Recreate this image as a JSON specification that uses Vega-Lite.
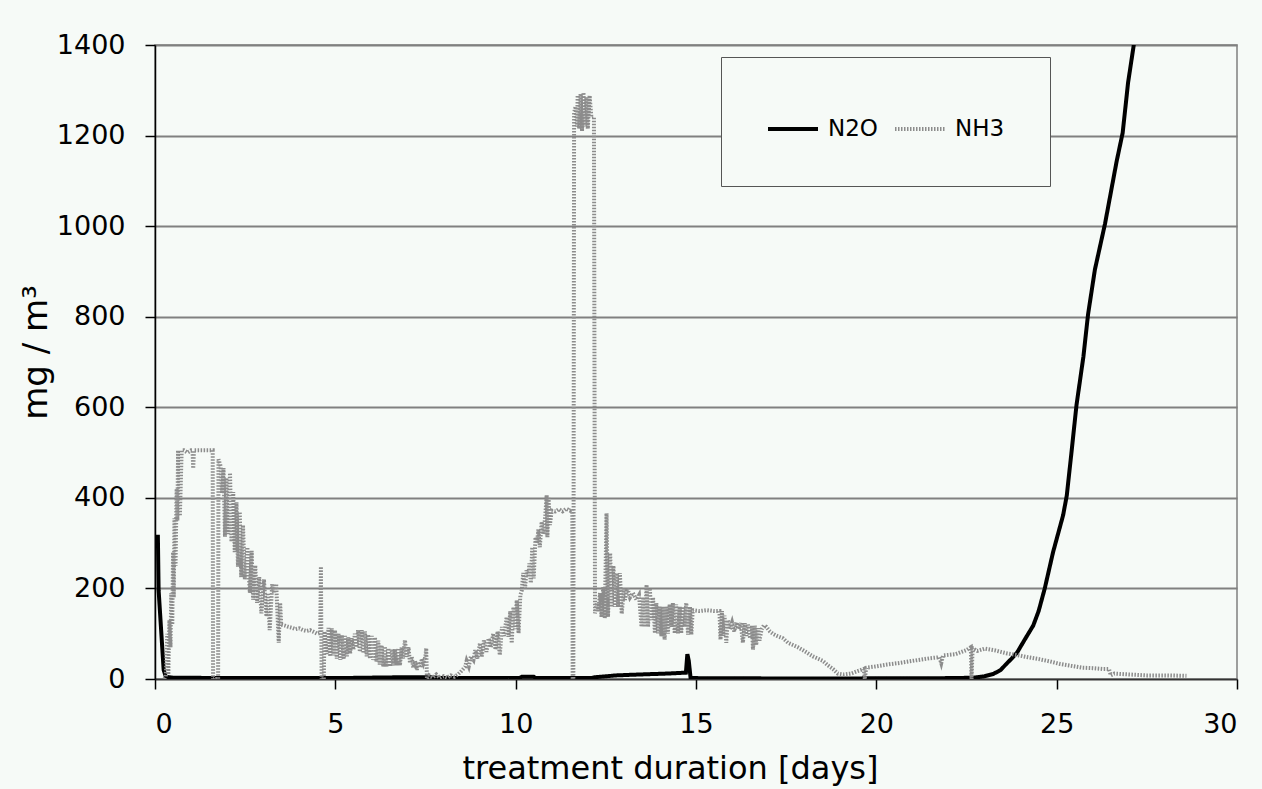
{
  "$schema": "https://vega.github.io/schema/vega-lite/v6.json",
  "width": 1082,
  "height": 634,
  "autosize": "none",
  "padding": {"left": 155, "top": 45, "right": 25, "bottom": 110},
  "background": "#f6faf7",
  "config": {
    "font": "DejaVu Sans",
    "view": {"stroke": "#808080", "strokeWidth": 1.5}
  },
  "datasets": {
    "n2o": [
      {"d":0.0,"v":300},{"d":0.02,"v":314},{"d":0.08,"v":314},{"d":0.1,"v":196},{"d":0.17,"v":108},{"d":0.24,"v":20},{"d":0.3,"v":5},{"d":0.5,"v":3},{"d":2.0,"v":2},{"d":5.0,"v":2},{"d":7.0,"v":4},{"d":7.6,"v":4},{"d":8.0,"v":2},{"d":10.1,"v":2},{"d":10.17,"v":5},{"d":10.5,"v":5},{"d":10.55,"v":2},{"d":12.1,"v":2},{"d":12.2,"v":4},{"d":12.8,"v":8},{"d":13.45,"v":10},{"d":14.2,"v":12},{"d":14.72,"v":14},{"d":14.76,"v":55},{"d":14.8,"v":40},{"d":14.85,"v":2},{"d":18.0,"v":1},{"d":22.2,"v":2},{"d":22.7,"v":3},{"d":23.0,"v":6},{"d":23.24,"v":11},{"d":23.45,"v":20},{"d":23.6,"v":33},{"d":23.75,"v":45},{"d":23.9,"v":58},{"d":24.1,"v":85},{"d":24.35,"v":118},{"d":24.5,"v":150},{"d":24.67,"v":200},{"d":24.9,"v":280},{"d":25.18,"v":362},{"d":25.28,"v":405},{"d":25.41,"v":500},{"d":25.55,"v":605},{"d":25.74,"v":711},{"d":25.87,"v":805},{"d":26.06,"v":904},{"d":26.34,"v":1005},{"d":26.66,"v":1142},{"d":26.83,"v":1206},{"d":26.98,"v":1317},{"d":27.17,"v":1417}
    ],
    "nh3": [
      {"d":0.26,"v":0},{"d":0.3,"v":5},{"d":0.34,"v":100},{"d":0.37,"v":10},{"d":0.4,"v":130},{"d":0.43,"v":70},{"d":0.45,"v":190},{"d":0.48,"v":120},{"d":0.5,"v":280},{"d":0.52,"v":180},{"d":0.54,"v":355},{"d":0.57,"v":250},{"d":0.6,"v":420},{"d":0.62,"v":350},{"d":0.64,"v":505},{"d":0.69,"v":360},{"d":0.74,"v":505},{"d":0.8,"v":505},{"d":0.9,"v":500},{"d":1.0,"v":505},{"d":1.04,"v":505},{"d":1.06,"v":465},{"d":1.08,"v":505},{"d":1.2,"v":505},{"d":1.4,"v":505},{"d":1.6,"v":505},{"d":1.61,"v":0},{"d":1.75,"v":0},{"d":1.76,"v":485},
      {"d":1.82,"v":470},{"d":1.86,"v":410},{"d":1.9,"v":466},{"d":1.94,"v":314},{"d":1.98,"v":444},{"d":2.02,"v":320},{"d":2.08,"v":455},{"d":2.12,"v":303},{"d":2.17,"v":413},{"d":2.21,"v":280},{"d":2.26,"v":390},{"d":2.3,"v":248},{"d":2.35,"v":369},{"d":2.39,"v":225},{"d":2.44,"v":340},{"d":2.49,"v":220},{"d":2.56,"v":291},{"d":2.63,"v":190},{"d":2.68,"v":283},{"d":2.72,"v":175},{"d":2.78,"v":251},{"d":2.83,"v":168},{"d":2.89,"v":225},{"d":2.95,"v":145},{"d":3.02,"v":220},{"d":3.09,"v":138},{"d":3.13,"v":190},{"d":3.18,"v":108},{"d":3.25,"v":210},{"d":3.3,"v":190},{"d":3.36,"v":210},{"d":3.43,"v":80},{"d":3.47,"v":168},{"d":3.5,"v":120},{"d":3.6,"v":118},{"d":3.7,"v":115},{"d":3.8,"v":113},{"d":3.9,"v":110},{"d":4.0,"v":112},{"d":4.1,"v":108},{"d":4.2,"v":106},{"d":4.3,"v":108},{"d":4.4,"v":104},{"d":4.5,"v":100},{"d":4.58,"v":102},{"d":4.6,"v":248},{"d":4.62,"v":0},{"d":4.68,"v":0},{"d":4.7,"v":105},
      {"d":4.76,"v":55},{"d":4.81,"v":113},{"d":4.86,"v":50},{"d":4.9,"v":112},{"d":4.95,"v":52},{"d":4.99,"v":108},{"d":5.04,"v":45},{"d":5.09,"v":100},{"d":5.14,"v":42},{"d":5.18,"v":97},{"d":5.23,"v":44},{"d":5.27,"v":95},{"d":5.32,"v":50},{"d":5.36,"v":92},{"d":5.41,"v":56},{"d":5.45,"v":90},{"d":5.5,"v":65},{"d":5.54,"v":100},{"d":5.59,"v":70},{"d":5.63,"v":108},{"d":5.68,"v":60},{"d":5.73,"v":108},{"d":5.78,"v":57},{"d":5.82,"v":105},{"d":5.87,"v":50},{"d":5.91,"v":98},{"d":5.96,"v":45},{"d":6.01,"v":95},{"d":6.05,"v":42},{"d":6.1,"v":92},{"d":6.14,"v":38},{"d":6.19,"v":85},{"d":6.23,"v":32},{"d":6.28,"v":75},{"d":6.33,"v":27},{"d":6.37,"v":72},{"d":6.42,"v":27},{"d":6.47,"v":68},{"d":6.52,"v":28},{"d":6.56,"v":66},{"d":6.61,"v":30},{"d":6.65,"v":66},{"d":6.7,"v":30},{"d":6.75,"v":68},{"d":6.79,"v":30},{"d":6.84,"v":70},{"d":6.88,"v":45},{"d":6.93,"v":86},{"d":6.98,"v":49},{"d":7.03,"v":70},{"d":7.07,"v":35},{"d":7.12,"v":49},{"d":7.16,"v":25},{"d":7.21,"v":40},{"d":7.26,"v":20},{"d":7.3,"v":38},{"d":7.35,"v":25},{"d":7.4,"v":45},{"d":7.44,"v":35},{"d":7.5,"v":50},{"d":7.52,"v":68},{"d":7.54,"v":0},{"d":7.6,"v":8},{"d":7.7,"v":3},{"d":7.8,"v":10},{"d":7.9,"v":2},{"d":8.0,"v":6},{"d":8.1,"v":3},{"d":8.2,"v":8},{"d":8.3,"v":5},{"d":8.4,"v":10},{"d":8.5,"v":18},{"d":8.6,"v":27},
      {"d":8.64,"v":40},{"d":8.7,"v":28},{"d":8.76,"v":50},{"d":8.83,"v":42},{"d":8.88,"v":64},{"d":8.94,"v":45},{"d":9.01,"v":79},{"d":9.06,"v":50},{"d":9.12,"v":85},{"d":9.19,"v":60},{"d":9.25,"v":90},{"d":9.31,"v":70},{"d":9.38,"v":100},{"d":9.44,"v":65},{"d":9.5,"v":105},{"d":9.56,"v":53},{"d":9.62,"v":115},{"d":9.68,"v":95},{"d":9.75,"v":137},{"d":9.8,"v":93},{"d":9.85,"v":150},{"d":9.89,"v":79},{"d":9.94,"v":159},{"d":9.98,"v":110},{"d":10.03,"v":174},{"d":10.08,"v":101},{"d":10.13,"v":185},{"d":10.17,"v":196},{"d":10.21,"v":234},{"d":10.26,"v":200},{"d":10.3,"v":240},{"d":10.35,"v":225},{"d":10.38,"v":255},{"d":10.42,"v":212},{"d":10.46,"v":291},{"d":10.5,"v":222},{"d":10.55,"v":313},{"d":10.59,"v":300},{"d":10.63,"v":330},{"d":10.67,"v":291},{"d":10.72,"v":347},{"d":10.77,"v":320},{"d":10.82,"v":360},{"d":10.86,"v":406},{"d":10.88,"v":313},{"d":10.91,"v":400},{"d":10.95,"v":340},{"d":11.0,"v":372},{"d":11.1,"v":370},{"d":11.2,"v":375},{"d":11.3,"v":370},{"d":11.4,"v":376},{"d":11.5,"v":372},{"d":11.57,"v":375},{"d":11.58,"v":0},{"d":11.6,"v":0},{"d":11.62,"v":1250},{"d":11.66,"v":1264},{"d":11.7,"v":1220},{"d":11.72,"v":1289},{"d":11.76,"v":1215},{"d":11.8,"v":1292},{"d":11.84,"v":1210},{"d":11.88,"v":1295},{"d":11.92,"v":1220},{"d":11.96,"v":1285},{"d":12.0,"v":1215},{"d":12.05,"v":1288},{"d":12.1,"v":1240},{"d":12.17,"v":1241},{"d":12.2,"v":145},
      {"d":12.25,"v":168},{"d":12.29,"v":150},{"d":12.34,"v":190},{"d":12.38,"v":137},{"d":12.43,"v":203},{"d":12.47,"v":134},{"d":12.52,"v":366},{"d":12.56,"v":137},{"d":12.62,"v":278},{"d":12.66,"v":159},{"d":12.71,"v":250},{"d":12.75,"v":159},{"d":12.8,"v":234},{"d":12.84,"v":159},{"d":12.89,"v":234},{"d":12.94,"v":144},{"d":13.0,"v":200},{"d":13.03,"v":175},{"d":13.1,"v":200},{"d":13.17,"v":180},{"d":13.25,"v":190},{"d":13.35,"v":175},{"d":13.42,"v":185},{"d":13.49,"v":115},{"d":13.54,"v":181},{"d":13.58,"v":115},{"d":13.63,"v":208},{"d":13.67,"v":115},{"d":13.72,"v":200},{"d":13.77,"v":130},{"d":13.81,"v":180},{"d":13.86,"v":101},{"d":13.9,"v":168},{"d":13.95,"v":101},{"d":13.99,"v":160},{"d":14.04,"v":94},{"d":14.08,"v":160},{"d":14.13,"v":87},{"d":14.18,"v":160},{"d":14.22,"v":100},{"d":14.27,"v":165},{"d":14.32,"v":115},{"d":14.36,"v":168},{"d":14.41,"v":101},{"d":14.45,"v":165},{"d":14.5,"v":101},{"d":14.55,"v":160},{"d":14.59,"v":101},{"d":14.64,"v":160},{"d":14.68,"v":115},{"d":14.73,"v":168},{"d":14.78,"v":98},{"d":14.83,"v":160},{"d":14.87,"v":98},{"d":14.91,"v":152},{"d":15.1,"v":150},{"d":15.3,"v":152},{"d":15.5,"v":150},{"d":15.65,"v":150},{"d":15.68,"v":87},{"d":15.72,"v":150},{"d":15.76,"v":95},{"d":15.79,"v":140},{"d":15.84,"v":80},{"d":15.88,"v":130},{"d":15.94,"v":110},{"d":16.0,"v":125},{"d":16.06,"v":105},{"d":16.12,"v":125},{"d":16.18,"v":110},{"d":16.24,"v":123},{"d":16.3,"v":80},{"d":16.35,"v":123},{"d":16.4,"v":95},{"d":16.44,"v":120},{"d":16.5,"v":90},{"d":16.55,"v":118},{"d":16.58,"v":65},{"d":16.63,"v":118},{"d":16.67,"v":75},{"d":16.72,"v":112},{"d":16.76,"v":85},{"d":16.82,"v":110},{"d":16.88,"v":118},{"d":16.95,"v":115},{"d":17.05,"v":105},{"d":17.13,"v":100},{"d":17.25,"v":95},{"d":17.41,"v":90},{"d":17.55,"v":80},{"d":17.69,"v":75},{"d":17.83,"v":70},{"d":17.96,"v":64},{"d":18.1,"v":57},{"d":18.24,"v":50},{"d":18.38,"v":45},{"d":18.52,"v":40},{"d":18.66,"v":30},{"d":18.8,"v":22},{"d":18.93,"v":12},{"d":19.1,"v":10},{"d":19.3,"v":12},{"d":19.5,"v":18},{"d":19.65,"v":22},{"d":19.68,"v":0},{"d":19.72,"v":25},{"d":20.0,"v":28},{"d":20.3,"v":32},{"d":20.6,"v":35},{"d":21.0,"v":40},{"d":21.5,"v":46},{"d":21.75,"v":48},{"d":21.8,"v":35},{"d":21.85,"v":52},{"d":22.2,"v":55},{"d":22.5,"v":64},{"d":22.62,"v":70},{"d":22.64,"v":0},{"d":22.67,"v":68},{"d":22.8,"v":62},{"d":23.0,"v":67},{"d":23.3,"v":63},{"d":23.6,"v":57},{"d":23.9,"v":53},{"d":24.2,"v":48},{"d":24.5,"v":44},{"d":24.8,"v":39},{"d":25.1,"v":33},{"d":25.4,"v":29},{"d":25.7,"v":25},{"d":26.0,"v":24},{"d":26.3,"v":22},{"d":26.45,"v":22},{"d":26.5,"v":8},{"d":26.6,"v":12},{"d":27.0,"v":10},{"d":27.5,"v":8},{"d":28.0,"v":8},{"d":28.6,"v":7}
    ]
  },
  "encoding": {
    "x": {
      "field": "d", "type": "quantitative",
      "scale": {"domain": [0, 30], "nice": false},
      "axis": {
        "values": [0, 5, 10, 15, 20, 25, 30], "grid": false,
        "tickSize": 10, "tickColor": "#000", "tickWidth": 1.5,
        "domainColor": "#333", "domainWidth": 1.5,
        "labelFontSize": 27, "labelColor": "#000", "labelPadding": 22,
        "title": "treatment duration [days]", "titleFontSize": 32, "titleFontWeight": "normal",
        "titleColor": "#000", "titlePadding": 16, "titleX": 515
      }
    },
    "y": {
      "field": "v", "type": "quantitative",
      "scale": {"domain": [0, 1400], "nice": false},
      "axis": {
        "values": [0, 200, 400, 600, 800, 1000, 1200, 1400], "grid": true, "format": "d",
        "gridColor": "#808080", "gridWidth": 2,
        "tickSize": 10, "tickColor": "#000", "tickWidth": 1.5,
        "domainColor": "#000", "domainWidth": 1.5,
        "labelFontSize": 27, "labelColor": "#000", "labelPadding": 20,
        "title": "mg / m³", "titleFontSize": 34, "titleFontWeight": "normal",
        "titleColor": "#000", "titlePadding": 3, "titleY": 307
      }
    }
  },
  "layer": [
    {
      "data": {"name": "n2o"},
      "mark": {"type": "line", "clip": true, "strokeWidth": 4},
      "encoding": {
        "color": {
          "datum": "N2O",
          "scale": {"domain": ["N2O", "NH3"], "range": ["#000000", "#8c8c8c"]},
          "legend": {
            "orient": "none", "legendX": 566, "legendY": 12, "direction": "horizontal",
            "title": null, "fillColor": "#f6faf7", "strokeColor": "#555555",
            "padding": 45, "columnPadding": 9, "labelFontSize": 23, "labelOffset": 8,
            "labelColor": "#000", "symbolType": "stroke", "symbolSize": 2500, "symbolStrokeWidth": 4
          }
        },
        "strokeDash": {
          "datum": "N2O",
          "scale": {"domain": ["N2O", "NH3"], "range": [[1, 0], [1.5, 1.5]]},
          "legend": {
            "orient": "none", "legendX": 566, "legendY": 12, "direction": "horizontal",
            "title": null, "fillColor": "#f6faf7", "strokeColor": "#555555",
            "padding": 45, "columnPadding": 9, "labelFontSize": 23, "labelOffset": 8,
            "labelColor": "#000", "symbolType": "stroke", "symbolSize": 2500, "symbolStrokeWidth": 4
          }
        }
      }
    },
    {
      "data": {"name": "nh3"},
      "mark": {"type": "line", "clip": true, "strokeWidth": 4},
      "encoding": {
        "color": {"datum": "NH3"},
        "strokeDash": {"datum": "NH3"}
      }
    }
  ]
}
